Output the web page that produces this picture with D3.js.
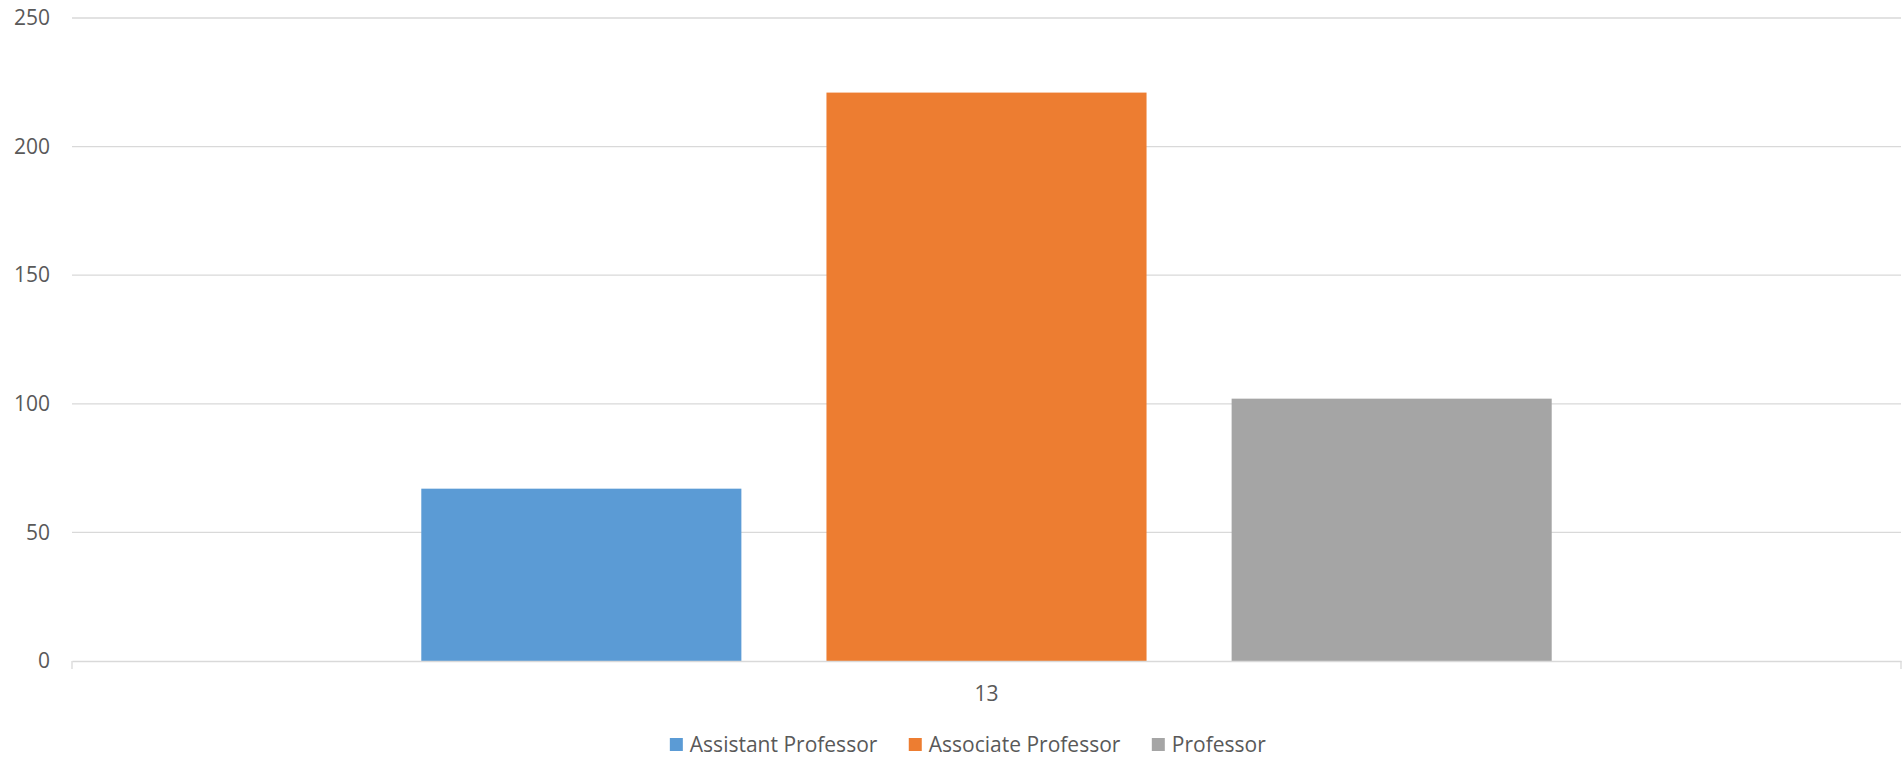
<!DOCTYPE html>
<html>
<head>
<meta charset="utf-8">
<script src="https://cdn.jsdelivr.net/npm/d3@7"></script>
<style>
  body { margin: 0; background: #fff; }
  text { font-family: "Open Sans", sans-serif; fill: #595959; }
</style>
</head>
<body>
<svg width="1903" height="757"></svg>
<script>
var categories = ["13"];
var seriesNames = ["Assistant Professor", "Associate Professor", "Professor"];
var seriesValues = [67, 221, 102];
var seriesColors = ["#5b9bd5", "#ed7d31", "#a5a5a5"];
var yTicks = [0, 50, 100, 150, 200, 250];

var svg = d3.select("svg"),
    margin = {top: 18, right: 2, bottom: 96, left: 72},
    width = +svg.attr("width") - margin.left - margin.right,
    height = +svg.attr("height") - margin.top - margin.bottom,
    g = svg.append("g").attr("transform", "translate(" + margin.left + "," + margin.top + ")");

var x0 = d3.scaleBand()
    .domain(categories)
    .range([0, width])
    .paddingInner(0)
    .paddingOuter(0.309);

var x1 = d3.scaleBand()
    .domain(seriesNames)
    .range([0, x0.bandwidth()])
    .paddingInner(0.21)
    .paddingOuter(0);

var y = d3.scaleLinear()
    .domain([0, 250])
    .range([height, 0]);

// gridlines
g.append("g")
    .selectAll("line")
    .data(yTicks.slice(1))
    .enter().append("line")
    .attr("x1", 0)
    .attr("x2", width)
    .attr("y1", function(d) { return y(d); })
    .attr("y2", function(d) { return y(d); })
    .attr("stroke", "#d9d9d9")
    .attr("stroke-width", 1.3);

// y axis labels
var yAxis = g.append("g")
    .call(d3.axisLeft(y).tickValues(yTicks).tickSize(0).tickPadding(22));
yAxis.select(".domain").remove();
yAxis.selectAll("text")
    .style("font-size", "21px")
    .style("fill", "#595959");

// bars
g.append("g")
    .selectAll("rect")
    .data(seriesValues)
    .enter().append("rect")
    .attr("x", function(d, i) { return x0(categories[0]) + x1(seriesNames[i]); })
    .attr("y", function(d) { return y(d); })
    .attr("width", x1.bandwidth())
    .attr("height", function(d) { return height - y(d); })
    .attr("fill", function(d, i) { return seriesColors[i]; });

// x axis
var xAxis = g.append("g")
    .attr("transform", "translate(0," + height + ")")
    .call(d3.axisBottom(x0).tickSize(0).tickPadding(25));
xAxis.select(".domain")
    .attr("stroke", "#d9d9d9")
    .attr("stroke-width", 1.3);
xAxis.selectAll("text")
    .style("font-size", "21px")
    .style("fill", "#595959");
// boundary tick marks at both ends
xAxis.selectAll(".edge")
    .data([0, width])
    .enter().append("line")
    .attr("class", "edge")
    .attr("x1", function(d) { return d; })
    .attr("x2", function(d) { return d; })
    .attr("y1", 0)
    .attr("y2", 8)
    .attr("stroke", "#d9d9d9")
    .attr("stroke-width", 1.3);

// legend
var legend = svg.append("g");
var items = legend.selectAll("g")
    .data(seriesNames)
    .enter().append("g");
items.append("rect")
    .attr("width", 13)
    .attr("height", 13)
    .attr("y", -7)
    .attr("fill", function(d, i) { return seriesColors[i]; });
items.append("text")
    .attr("x", 20)
    .attr("dy", "0.35em")
    .style("font-size", "21px")
    .text(function(d) { return d; });

var gap = 31;
var pos = 0;
items.each(function() {
  var w = this.getBBox().width;
  d3.select(this).attr("transform", "translate(" + pos + ",0)");
  pos += w + gap;
});
var total = pos - gap;
legend.attr("transform", "translate(" + (968 - total / 2) + ",745)");
</script>
</body>
</html>
